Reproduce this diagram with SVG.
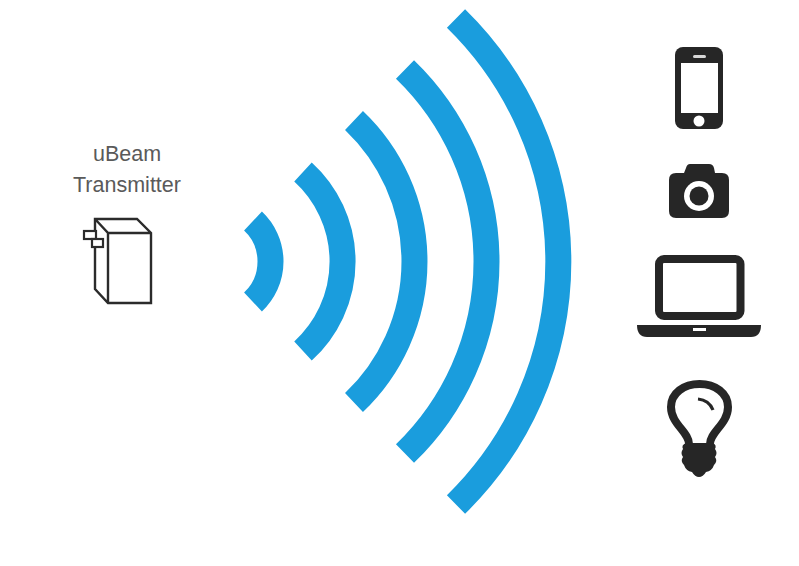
<svg xmlns="http://www.w3.org/2000/svg" width="799" height="566" viewBox="0 0 799 566">
<style>
.wave{fill:none;stroke:#1a9ddd;stroke-width:26}
.ink{fill:#262626}
.line{fill:none;stroke:#2b2b2b;stroke-width:2.4;stroke-linejoin:miter}
.label{font-family:"Liberation Sans",Arial,sans-serif;font-size:21.500px;fill:#5a5a5a;text-anchor:middle}
</style>
<rect width="799" height="566" fill="#ffffff"/>
<g id="transmitter">
<text class="label" x="127" y="161">uBeam</text>
<text class="label" x="127" y="192">Transmitter</text>
<path class="line" d="M95 219H137L151 233V303H108L95 289ZM95 219L108 233V303M108 233H151"/>
<rect x="84" y="231" width="12" height="8" fill="#fff" stroke="#2b2b2b" stroke-width="2.2"/>
<rect x="92" y="239" width="11" height="8" fill="#fff" stroke="#2b2b2b" stroke-width="2.2"/>
</g>
<g id="waves">
<path class="wave" d="M253 221A55.600 55.600 0 0 1 253 302"/>
<path class="wave" d="M303 172A121 121 0 0 1 303 351"/>
<path class="wave" d="M354 120.500A194.600 194.600 0 0 1 354 402.500"/>
<path class="wave" d="M405 69.500A266.900 266.900 0 0 1 405 453.500"/>
<path class="wave" d="M456 18.500A339.700 339.700 0 0 1 456 504.500"/>
</g>
<g id="phone">
<rect class="ink" x="675" y="47" width="48" height="82" rx="8"/>
<rect x="681" y="63" width="37" height="50" fill="#fff"/>
<rect x="693" y="55" width="13" height="3" rx="1.500" fill="#d8d8d8"/>
<circle cx="699" cy="121" r="5.500" fill="#fff"/>
</g>
<g id="camera">
<path class="ink" d="M690 164H709Q713 164 714 168L715 173H722Q729 173 729 180V211Q729 218 722 218H676Q669 218 669 211V180Q669 173 676 173H684L686 168Q687 164 690 164Z"/>
<circle cx="699" cy="196" r="15" fill="#fff"/>
<circle cx="699" cy="196" r="9.500" fill="#262626"/>
</g>
<g id="laptop">
<rect x="659" y="259" width="81.500" height="57" rx="5" fill="#fff" stroke="#262626" stroke-width="8"/>
<path class="ink" d="M637 325H761Q761 337 751 337H647Q637 337 637 325Z"/>
<rect x="693" y="328" width="13" height="3" fill="#fff"/>
</g>
<g id="bulb">
<path d="M689 444C689 432 671 424 671 407C671 393 684 384 699.500 384C715 384 728 393 728 407C728 424 710 432 710 444" fill="#fff" stroke="#262626" stroke-width="8"/>
<path class="ink" d="M686 443H713Q717 445 715 449Q718 453 715 457Q718 461 714 465Q712 471 706 472Q703 477 699 477Q695 477 692 472Q686 471 684 465Q680 461 683 457Q680 453 683 449Q681 445 686 443Z"/>
<path d="M698 399Q709 400 713 410" fill="none" stroke="#262626" stroke-width="3.200"/>
</g>
</svg>
